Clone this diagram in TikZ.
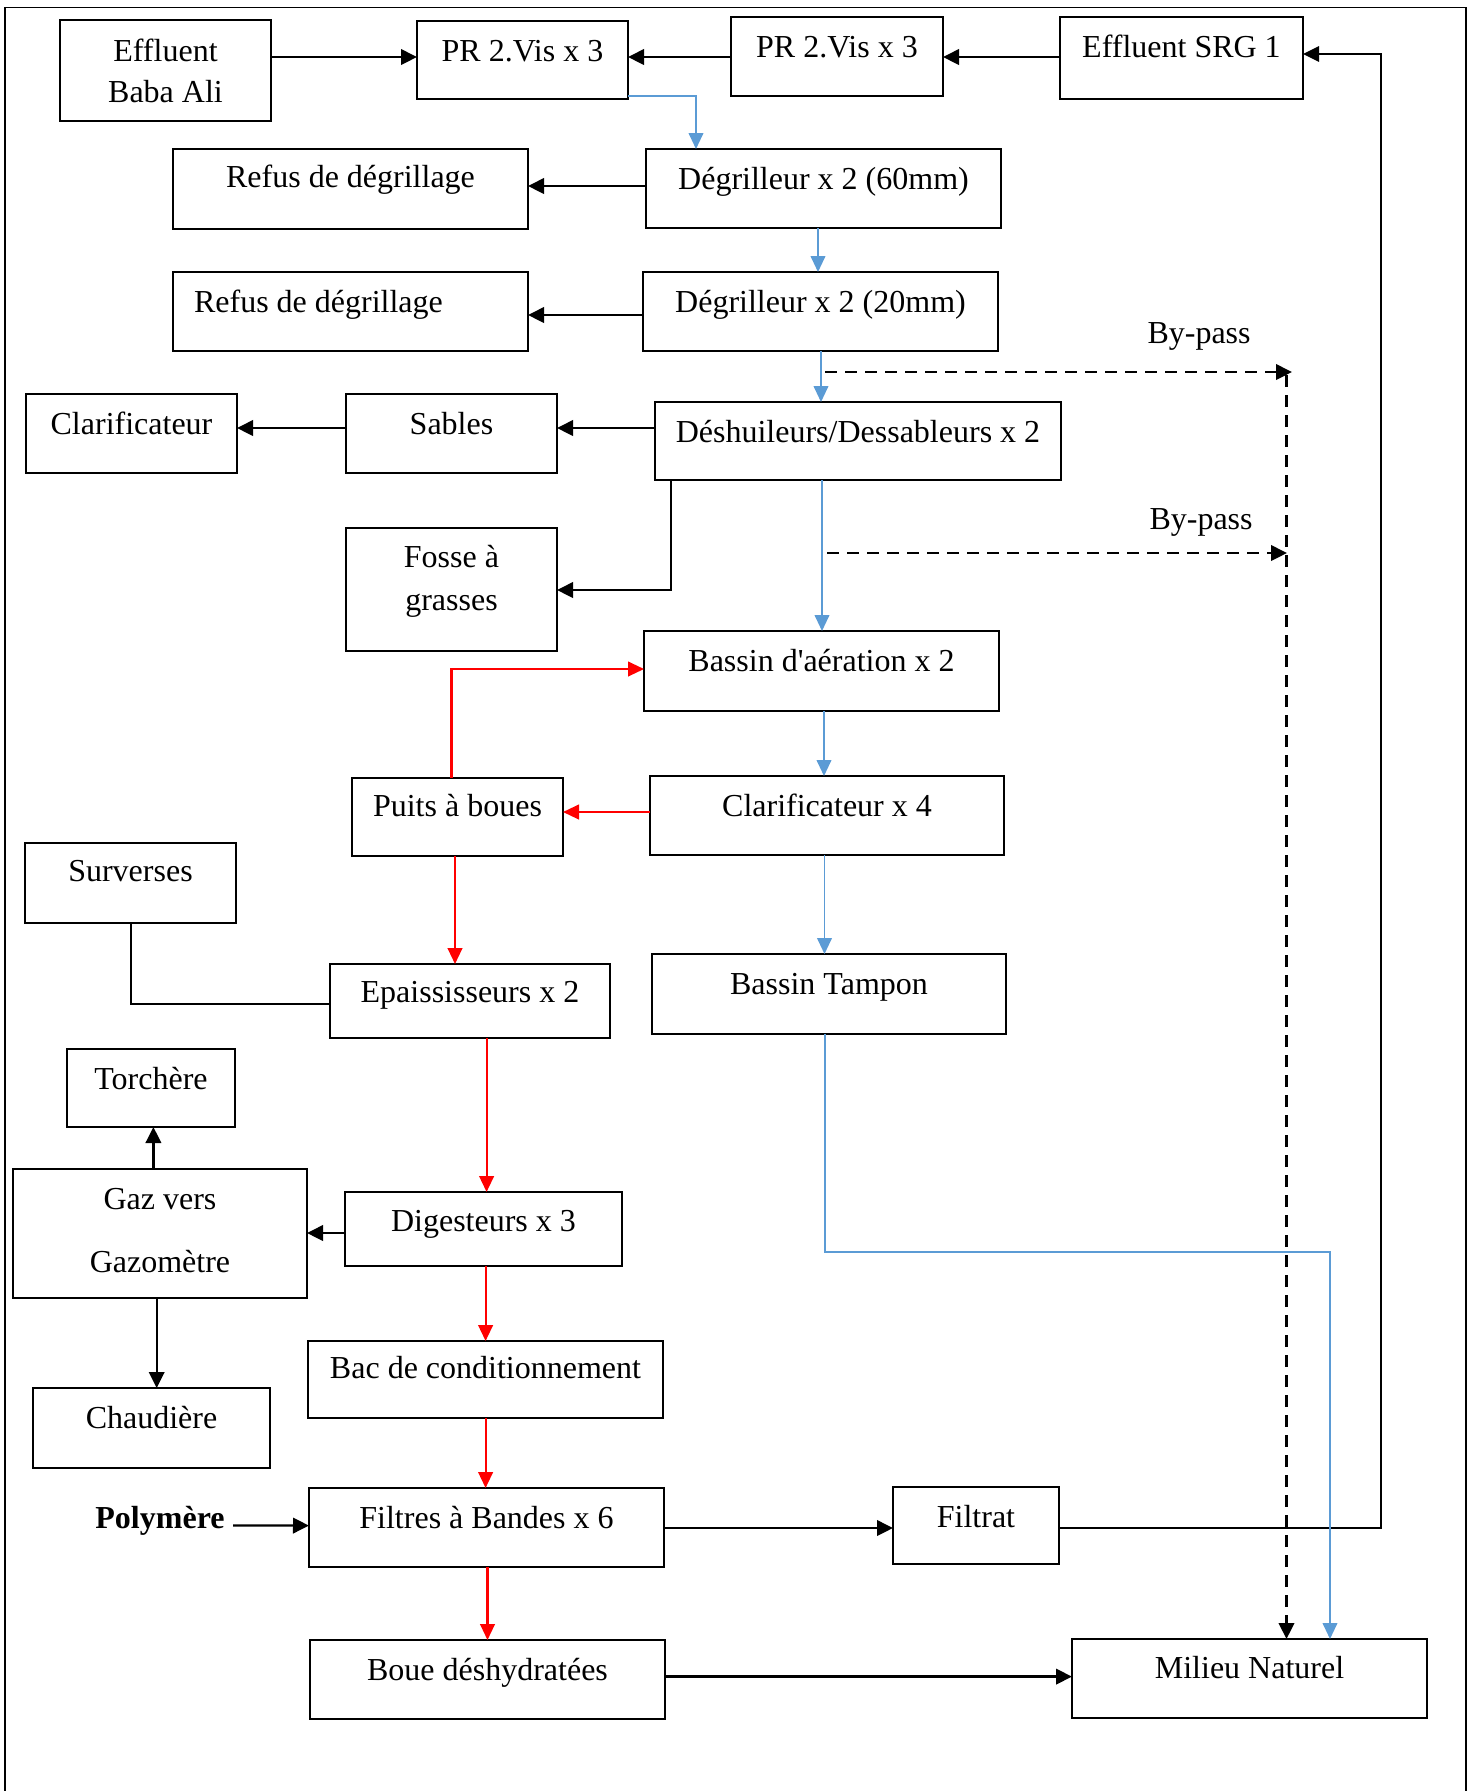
\documentclass[tikz,border=0pt]{standalone}
\usepackage{fontspec}
\setmainfont{Liberation Serif}
\usetikzlibrary{arrows.meta,fit,calc}
\definecolor{wblue}{RGB}{91,155,213}
\begin{document}
\begin{tikzpicture}[x=0.375pt,y=-0.375pt,
  box/.style={draw, line width=0.7pt, inner sep=0pt, outer sep=0pt},
  t/.style={anchor=base, inner sep=0pt, font=\fontsize{12}{14}\selectfont},
  lb/.style={label={[t,yshift=-15pt]north:#1}},
  ar/.style={line width=0.85pt, -{Triangle[length=6pt,width=5.8pt]}},
  ln/.style={line width=0.75pt},
  bl/.style={draw=wblue, line width=0.7pt, -{Triangle[length=6pt,width=5.5pt]}},
  rd/.style={draw=red, line width=0.8pt, -{Triangle[length=6pt,width=5.5pt]}},
  ds/.style={line width=0.85pt, dash pattern=on 4.5pt off 3pt, -{Triangle[length=6pt,width=5.8pt]}},
]
\useasboundingbox (0,0) rectangle (1470,1791);
% outer frame
\draw[line width=0.55pt] (5,1791) -- (5,7.5) -- (1466,7.5) -- (1466,1791);

% boxes
\node[box, fit={(60,20) (271,121)}, label={[t,yshift=-15.4pt]north:Effluent}, label={[t,yshift=-31.1pt]north:Baba Ali}] (eba) {};
\node[box, fit={(417,21) (628,99)}, lb={PR 2.Vis x 3}] (prl) {};
\node[box, fit={(731,17) (943,96)}, lb={PR 2.Vis x 3}] (prr) {};
\node[box, fit={(1060,17) (1303,99)}, lb={Effluent SRG 1}] (srg) {};
\node[box, fit={(646,149) (1001,228)}, lb={Dégrilleur x 2 (60mm)}] (dg60) {};
\node[box, fit={(173,149) (528,229)}, label={[t,yshift=-14.6pt]north:Refus de dégrillage}] (ref1) {};
\node[box, fit={(643,272) (998,351)}, label={[t,yshift=-15.2pt]north:Dégrilleur x 2 (20mm)}] (dg20) {};
\node[box, fit={(173,272) (528,351)}, label={[t,anchor=base west,xshift=7.7pt,yshift=-15pt]north west:Refus de dégrillage}] (ref2) {};
\node[box, fit={(655,402) (1061,480)}, lb={Déshuileurs/Dessableurs x 2}] (des) {};
\node[box, fit={(346,394) (557,473)}, lb={Sables}] (sab) {};
\node[box, fit={(26,394) (237,473)}, lb={Clarificateur}] (clf) {};
\node[box, fit={(346,528) (557,651)}, label={[t,yshift=-14.8pt]north:Fosse à}, label={[t,yshift=-30.8pt]north:grasses}] (fos) {};
\node[box, fit={(644,631) (999,711)}, lb={Bassin d\textquotesingle aération x 2}] (bae) {};
\node[box, fit={(650,776) (1004,855)}, lb={Clarificateur x 4}] (clr4) {};
\node[box, fit={(352,778) (563,856)}, label={[t,yshift=-14.3pt]north:Puits à boues}] (pui) {};
\node[box, fit={(25,843) (236,923)}, label={[t,yshift=-14.6pt]north:Surverses}] (sur) {};
\node[box, fit={(330,964) (610,1038)}, label={[t,yshift=-14.6pt]north:Epaississeurs x 2}] (epa) {};
\node[box, fit={(652,954) (1006,1034)}, lb={Bassin Tampon}] (bta) {};
\node[box, fit={(67,1049) (235,1127)}, lb={Torchère}] (tor) {};
\node[box, fit={(13,1169) (307,1298)}, label={[t,yshift=-15.1pt]north:Gaz vers}, label={[t,yshift=-38.8pt]north:Gazomètre}] (gaz) {};
\node[box, fit={(345,1192) (622,1266)}, label={[t,yshift=-14.8pt]north:Digesteurs x 3}] (dig) {};
\node[box, fit={(308,1341) (663,1418)}, label={[t,yshift=-14.2pt]north:Bac de conditionnement}] (bac) {};
\node[box, fit={(33,1388) (270,1468)}, lb={Chaudière}] (cha) {};
\node[box, fit={(309,1488) (664,1567)}, lb={Filtres à Bandes x 6}] (fil) {};
\node[box, fit={(893,1487) (1059,1564)}, lb={Filtrat}] (ftr) {};
\node[box, fit={(310,1640) (665,1719)}, label={[t,yshift=-15.2pt]north:Boue déshydratées}] (boue) {};
\node[box, fit={(1072,1639) (1427,1718)}, label={[t,yshift=-14.7pt]north:Milieu Naturel}] (mil) {};

% free texts
\node[t, font=\fontsize{12}{14}\selectfont\bfseries] (pol) at (160,1528.5) {Polymère};
\node[t, anchor=base west] (bp1) at (1147,343) {By-pass};
\node[t, anchor=base west] (bp2) at (1149,529) {By-pass};

% connectors: top row
\draw[ar] (eba.east |- 0,57) -- (prl.west |- 0,57);
\draw[ar] (prr.west |- 0,57) -- (prl.east |- 0,57);
\draw[ar] (srg.west |- 0,57) -- (prr.east |- 0,57);
\draw[ar, line width=0.6pt] (ftr.east |- 0,1528) -- (1381,1528) -- (1381,54) -- (srg.east |- 0,54);

% water line (blue)
\draw[bl] (prl.east |- 0,96) -- (696,96) -- (dg60.north -| 696,0);
\draw[bl] (dg60.south -| 818,0) -- (dg20.north -| 818,0);
\draw[bl] (dg20.south -| 821,0) -- (des.north -| 821,0);
\draw[bl] (des.south -| 822,0) -- (bae.north -| 822,0);
\draw[bl] (bae.south -| 824,0) -- (clr4.north -| 824,0);
\draw[bl] (clr4.south -| 824.5,0) -- (bta.north -| 824.5,0);
\draw[bl] (bta.south -| 825,0) -- (825,1252) -- (1330,1252) -- (mil.north -| 1330,0);

% refuse
\draw[ar] (dg60.west |- 0,186) -- (ref1.east |- 0,186);
\draw[ar] (dg20.west |- 0,315) -- (ref2.east |- 0,315);
\draw[ar] (des.west |- 0,428) -- (sab.east |- 0,428);
\draw[ar] (sab.west |- 0,428) -- (clf.east |- 0,428);
\draw[ar] (des.south -| 671,0) -- (671,590) -- (fos.east |- 0,590);

% by-pass
\coordinate (b1) at (825,372);
\coordinate (b1e) at (1292,372);
\coordinate (b2) at (827,553);
\coordinate (b2e) at (1287,553);
\coordinate (b3) at (1286.5,375);
\draw[ds] (b1) -- (b1e);
\draw[ds] (b2) -- (b2e);
\draw[ds] (b3) -- (mil.north -| b3);

% sludge line (red)
\draw[rd] (pui.north -| 451.5,0) -- (451.5,669) -- (bae.west |- 0,669);
\draw[rd] (clr4.west |- 0,812) -- (pui.east |- 0,812);
\draw[rd] (pui.south -| 455,0) -- (epa.north -| 455,0);
\draw[rd] (epa.south -| 486.6,0) -- (dig.north -| 486.6,0);
\draw[rd] (dig.south -| 485.6,0) -- (bac.north -| 485.6,0);
\draw[rd] (bac.south -| 485.6,0) -- (fil.north -| 485.6,0);
\draw[rd] (fil.south -| 487.5,0) -- (boue.north -| 487.5,0);

% others
\draw[ln] (sur.south -| 130.6,0) -- (130.6,1004) -- (epa.west |- 0,1004);
\draw[ar] (dig.west |- 0,1233) -- (gaz.east |- 0,1233);
\draw[ar] (gaz.north -| 153.4,0) -- (tor.south -| 153.4,0);
\draw[ar] (gaz.south -| 156.7,0) -- (cha.north -| 156.7,0);
\draw[ar] ($(pol.base east)+(8,-3)$) -- (fil.west |- 0,1525.6);
\draw[ar] (fil.east |- 0,1528) -- (ftr.west |- 0,1528);
\draw[ar] (boue.east |- 0,1676.6) -- (mil.west |- 0,1676.6);
\end{tikzpicture}
\end{document}
